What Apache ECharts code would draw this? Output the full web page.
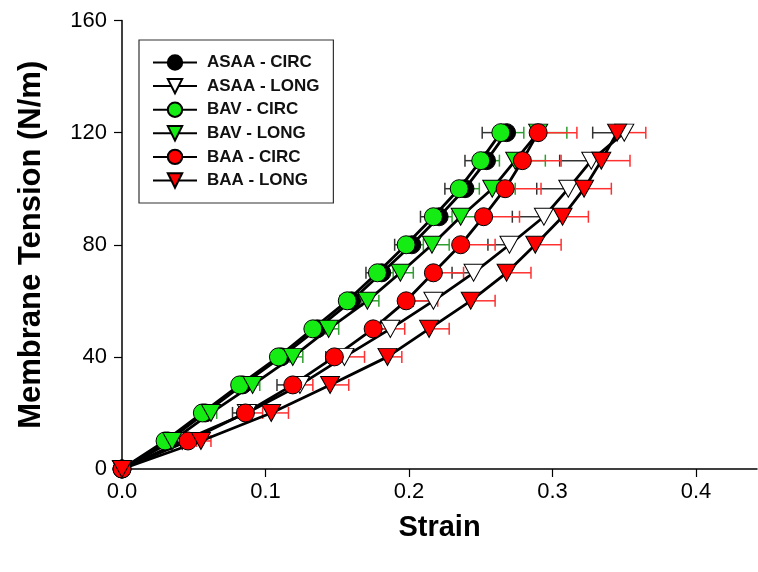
<!DOCTYPE html>
<html><head><meta charset="utf-8">
<script src="https://cdn.jsdelivr.net/npm/echarts@6/dist/echarts.min.js"></script>
<style>html,body{margin:0;padding:0;background:#fff}#c{width:758px;height:572px}</style>
</head><body><div id="c"></div>
<script>
const tension = [0,10,20,30,40,50,60,70,80,90,100,110,120];
const xTicks = [0,0.1,0.2,0.3,0.4];
const yTicks = [0,40,80,120,160];
const seriesNames = ['ASAA - CIRC','ASAA - LONG','BAV - CIRC','BAV - LONG','BAA - CIRC','BAA - LONG'];

const asaaCirc    = [0,0.032,0.058,0.084,0.111,0.136,0.160,0.181,0.202,0.221,0.239,0.254,0.268];
const asaaCircErr = [0,0.003,0.004,0.005,0.006,0.007,0.008,0.011,0.012,0.013,0.014,0.015,0.017];
const asaaLong    = [0,0.042,0.087,0.124,0.155,0.187,0.217,0.245,0.270,0.294,0.311,0.327,0.350];
const asaaLongErr = [0,0.004,0.010,0.016,0.013,0.013,0.014,0.015,0.015,0.022,0.022,0.022,0.022];
const bavCirc     = [0,0.030,0.056,0.082,0.109,0.133,0.157,0.178,0.198,0.217,0.235,0.250,0.264];
const bavCircErr  = [0,0.004,0.005,0.006,0.008,0.009,0.010,0.011,0.012,0.013,0.014,0.013,0.016];
const bavLong     = [0,0.035,0.062,0.091,0.119,0.144,0.171,0.194,0.216,0.236,0.258,0.274,0.290];
const bavLongErr  = [0,0.003,0.004,0.005,0.007,0.007,0.008,0.009,0.012,0.014,0.016,0.021,0.020];
const baaCirc     = [0,0.046,0.086,0.119,0.148,0.175,0.198,0.217,0.236,0.252,0.267,0.279,0.290];
const baaCircErr  = [0,0.006,0.012,0.014,0.021,0.022,0.022,0.021,0.024,0.025,0.025,0.027,0.027];
const baaLong     = [0,0.055,0.104,0.145,0.185,0.214,0.243,0.268,0.288,0.307,0.322,0.334,0.345];
const baaLongErr  = [0,0.007,0.012,0.013,0.010,0.014,0.017,0.017,0.018,0.018,0.019,0.020,0.020];

const TRI_DOWN = 'path://M0,0 L10,0 L5,9 Z';
const FONT = '"Liberation Sans", Arial, sans-serif';

function pts(xs){ return xs.map((x,i)=>[x, tension[i]]); }
function errPts(xs, es){ return xs.map((x,i)=>[x, tension[i], es[i]]).filter(d=>d[2]>0); }

function errSeries(xs, es, color, dir){
  return {
    type:'custom', silent:true, clip:false, z:1,
    data: errPts(xs, es),
    encode:{x:0,y:1},
    renderItem: function(params, api){
      const x = api.value(0), y = api.value(1), e = api.value(2);
      const p0 = api.coord([x, y]);
      const p1 = api.coord([x + dir*e, y]);
      const h = 6;
      return {type:'group', children:[
        {type:'line', shape:{x1:p0[0],y1:p0[1],x2:p1[0],y2:p1[1]}, style:{stroke:color,lineWidth:1.5}},
        {type:'line', shape:{x1:p1[0],y1:p1[1]-h,x2:p1[0],y2:p1[1]+h}, style:{stroke:color,lineWidth:1.5}}
      ]};
    }
  };
}

function lineSeries(name, xs, symbol, fill){
  return {
    name, type:'line', data: pts(xs), z:3,
    symbol, symbolSize: symbol==='circle' ? 18 : [19,17],
    showAllSymbol:true,
    lineStyle:{color:'#000', width:2.8},
    itemStyle:{color:fill, borderColor:'#000', borderWidth:1},
    emphasis:{disabled:true}, animation:false
  };
}

const GREEN='#14ec14', GREEN_ERR='#2e9e2e', RED='#ff0000', RED_ERR='#ff3030', BLACK_ERR='#333';

const chart = echarts.init(document.getElementById('c'), null, {renderer:'canvas'});
chart.setOption({
  animation:false,
  backgroundColor:'#fff',
  grid:{left:122, right:1, top:20.5, bottom:103, containLabel:false},
  legend:{
    data: seriesNames, orient:'vertical', left:139, top:40,
    padding:[14,14,14,13], itemGap:6.6, itemWidth:44, itemHeight:18,
    borderColor:'#333', borderWidth:1.2, backgroundColor:'#fff',
    textStyle:{fontFamily:FONT, fontWeight:'bold', fontSize:17, color:'#111', padding:[0,0,0,5]},
    selectedMode:false
  },
  xAxis:{
    type:'value', min:0, max:0.4425, interval:0.1,
    name:'Strain', nameLocation:'middle', nameGap:44,
    nameTextStyle:{fontFamily:FONT, fontWeight:'bold', fontSize:29, color:'#000'},
    axisLine:{lineStyle:{color:'#000', width:1.5}},
    axisTick:{customValues:xTicks, length:8, lineStyle:{color:'#000', width:1.2}},
    axisLabel:{customValues:xTicks, formatter:v=>v.toFixed(1), margin:12, fontFamily:FONT, fontSize:22, color:'#000'},
    splitLine:{show:false}
  },
  yAxis:{
    type:'value', min:0, max:160, interval:40,
    name:'Membrane Tension (N/m)', nameLocation:'middle', nameGap:75,
    nameTextStyle:{fontFamily:FONT, fontWeight:'bold', fontSize:31, color:'#000'},
    axisLine:{show:true, lineStyle:{color:'#000', width:1.5}},
    axisTick:{show:true, length:8, lineStyle:{color:'#000', width:1.2}},
    axisLabel:{margin:15, fontFamily:FONT, fontSize:22, color:'#000'},
    splitLine:{show:false}
  },
  series:[
    errSeries(asaaCirc, asaaCircErr, BLACK_ERR, -1),
    errSeries(asaaLong, asaaLongErr, BLACK_ERR, -1),
    errSeries(bavCirc, bavCircErr, GREEN_ERR, 1),
    errSeries(bavLong, bavLongErr, GREEN_ERR, 1),
    errSeries(baaCirc, baaCircErr, RED_ERR, 1),
    errSeries(baaLong, baaLongErr, RED_ERR, 1),
    lineSeries('ASAA - CIRC', asaaCirc, 'circle', '#000'),
    lineSeries('ASAA - LONG', asaaLong, TRI_DOWN, '#fff'),
    lineSeries('BAV - CIRC', bavCirc, 'circle', GREEN),
    lineSeries('BAV - LONG', bavLong, TRI_DOWN, GREEN),
    lineSeries('BAA - CIRC', baaCirc, 'circle', RED),
    lineSeries('BAA - LONG', baaLong, TRI_DOWN, RED)
  ]
});
</script></body></html>
